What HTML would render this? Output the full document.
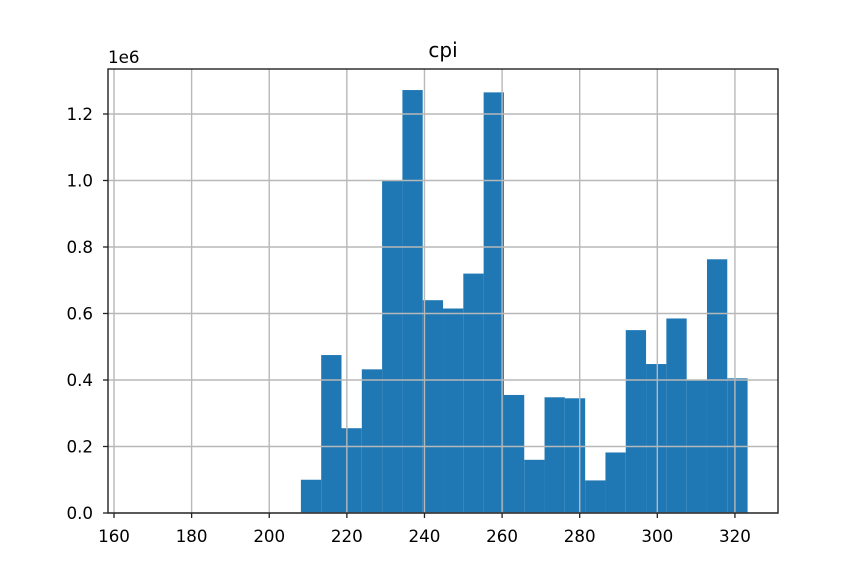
<!DOCTYPE html>
<html><head><meta charset="utf-8"><style>
body{margin:0;background:#fff;}
svg{display:block;font-family:"DejaVu Sans","Liberation Sans",sans-serif;}
</style></head><body>
<svg id="chart" width="864" height="576" viewBox="0 0 864 576">
<rect width="864" height="576" fill="#fff"/>
<g id="bars"></g>
<g id="grid"></g>
<g id="ticks"></g>
<rect x="108" y="69" width="670" height="444" fill="none" stroke="#222" stroke-width="1.4"/>
<text x="443" y="57" text-anchor="middle" font-size="20">cpi</text>
<text x="108" y="63" font-size="16.7">1e6</text>
</svg>
<script>
const binStart = 166.3;
const binWidth = 5.232;
const counts = [0,0,0,0,0,0,0,0,0.10,0.475,0.255,0.432,1.0,1.272,0.64,0.615,0.72,1.265,0.355,0.16,0.348,0.345,0.098,0.182,0.55,0.448,0.585,0.4,0.763,0.405];
const xTicks = [160,180,200,220,240,260,280,300,320];
const yTicks = [0,0.2,0.4,0.6,0.8,1.0,1.2];
const yTickLabels = ["0.0","0.2","0.4","0.6","0.8","1.0","1.2"];
const NS="http://www.w3.org/2000/svg";
const L=108,R=778,T=69,B=513;
const xMin=158.45,xMax=331.1,yMax=1.3353;
function sx(v){return L+(v-xMin)/(xMax-xMin)*(R-L);}
function sy(v){return B-v/yMax*(B-T);}
function mk(tag,attrs,parent){const e=document.createElementNS(NS,tag);for(const k in attrs)e.setAttribute(k,attrs[k]);parent.appendChild(e);return e;}
const bars=document.getElementById('bars'),grid=document.getElementById('grid'),ticks=document.getElementById('ticks');
counts.forEach((c,i)=>{
  if(c<=0)return;
  const x0=sx(binStart+i*binWidth),x1=sx(binStart+(i+1)*binWidth);
  const r=mk('rect',{x:x0,y:sy(c),width:x1-x0,height:B-sy(c),fill:'#1f77b4'},bars);
  
  
});
xTicks.forEach(t=>{
  const x=sx(t);
  const g=mk('line',{x1:x,x2:x,y1:T,y2:B,stroke:'#b8b8b8','stroke-width':1.4},grid);
  
  
  const tk=mk('line',{x1:x,x2:x,y1:B,y2:B+5,stroke:'#222','stroke-width':1.3},ticks);
  
  
  const tx=mk('text',{x:x,y:B+29,'text-anchor':'middle','font-size':16.7},ticks);
  tx.textContent=t;
  
  
});
yTicks.forEach((t,i)=>{
  const y=sy(t);
  const g=mk('line',{x1:L,x2:R,y1:y,y2:y,stroke:'#b8b8b8','stroke-width':1.4},grid);
  
  
  const tk=mk('line',{x1:L-5,x2:L,y1:y,y2:y,stroke:'#222','stroke-width':1.3},ticks);
  
  
  const tx=mk('text',{x:L-15,y:y+6,'text-anchor':'end','font-size':16.7},ticks);
  tx.textContent=yTickLabels[i];
  
  
});
</script>
</body></html>
